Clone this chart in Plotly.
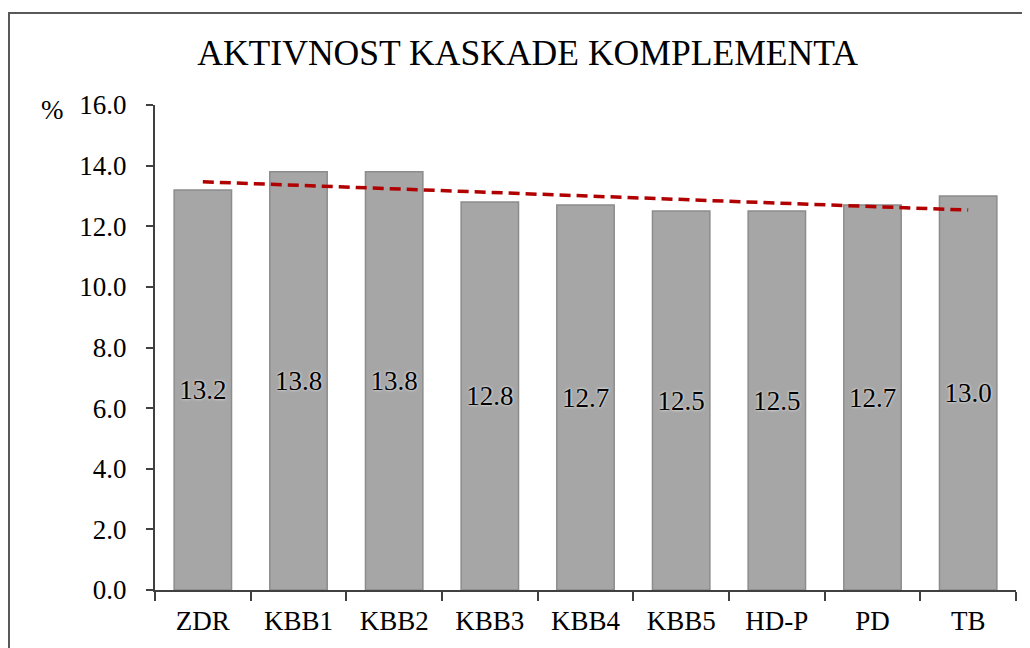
import numpy as np
import plotly.graph_objects as go

# ─── Data ────────────────────────────────────────────────────────────────────
categories = ["ZDR", "KBB1", "KBB2", "KBB3", "KBB4", "KBB5", "HD-P", "PD", "TB"]
values     = [13.2, 13.8, 13.8, 12.8, 12.7, 12.5, 12.5, 12.7, 13.0]
y_ticks    = [0, 2, 4, 6, 8, 10, 12, 14, 16]

# linear trend over the category index (like Excel's trendline)
idx = np.arange(len(values))
slope, intercept = np.polyfit(idx, values, 1)
trend = intercept + slope * idx

SERIF = "Liberation Serif, Times New Roman, serif"

fig = go.Figure()
fig.add_trace(go.Bar(
    x=categories, y=values,
    width=0.6,
    marker=dict(color="#A6A6A6", line=dict(color="#8C8C8C", width=1.5)),
    text=[f"{v:.1f}" for v in values],
    textposition="inside",
    insidetextanchor="middle",
    textangle=0,
    textfont=dict(family=SERIF, size=27, color="black", shadow="0 0 3px #fff"),
))
fig.add_trace(go.Scatter(
    x=categories, y=trend,
    mode="lines",
    line=dict(color="#B00000", width=3.5, dash="11px,6px"),
))

# the page body has an 8px margin, so the figure starts at (8, 8)
fig.update_layout(
    width=1030, height=648,
    paper_bgcolor="white", plot_bgcolor="white",
    margin=dict(l=147, r=22, t=97, b=66),
    showlegend=False,
    font=dict(family=SERIF, size=27, color="black"),
    title=dict(
        text="AKTIVNOST KASKADE KOMPLEMENTA",
        x=0.5044, xanchor="center", y=1 - 45 / 648, yanchor="middle",
        font=dict(family=SERIF, size=35.6, color="black"),
    ),
    xaxis=dict(
        showline=True, linecolor="#404040", linewidth=2,
        ticks="outside", tickson="boundaries", ticklen=9, tickwidth=2,
        tickcolor="#404040", range=[-0.5, 8.5], ticklabelstandoff=6,
        tickfont=dict(family=SERIF, size=27, color="black"),
    ),
    yaxis=dict(
        range=[0, 16], tickvals=y_ticks, tickformat=".1f",
        showline=True, linecolor="#404040", linewidth=2,
        ticks="outside", ticklen=7, tickwidth=2, tickcolor="#404040",
        showgrid=False, zeroline=False, ticklabelstandoff=14,
        tickfont=dict(family=SERIF, size=27, color="black"),
    ),
    shapes=[dict(
        type="rect", xref="paper", yref="paper",
        x0=(9 - 155) / 861, x1=1.05, y0=-0.3, y1=(590 - 13) / 485,
        line=dict(color="#595959", width=2), fillcolor="rgba(0,0,0,0)",
        layer="below",
    )],
    annotations=[dict(
        text="%", xref="paper", yref="paper",
        x=(52 - 155) / 861, y=(590 - 110) / 485,
        xanchor="center", yanchor="middle", showarrow=False,
        font=dict(family=SERIF, size=27, color="black"),
    )],
)

fig.write_html("out.html")
